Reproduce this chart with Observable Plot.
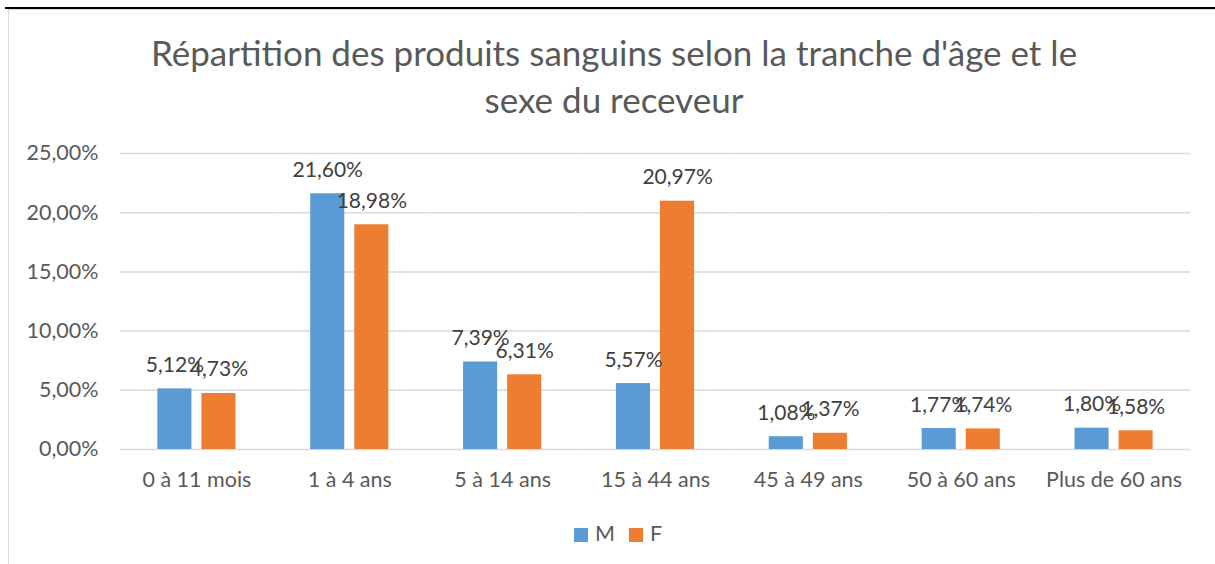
<!DOCTYPE html>
<html>
<head>
<meta charset="utf-8">
<script src="https://cdn.jsdelivr.net/npm/d3@7"></script>
<script src="https://cdn.jsdelivr.net/npm/@observablehq/plot@0.6"></script>
<style>
  html, body { margin: 0; padding: 0; background: #fff; }
  #wrap { position: relative; width: 1215px; height: 564px; overflow: hidden; font-family: Lato, "Open Sans", sans-serif; }
  #blackline { position: absolute; left: 5px; top: 7px; width: 1210px; height: 2px; background: #000; }
  #frame { position: absolute; left: 8px; top: 9px; width: 1220px; height: 600px; border-left: 1px solid #d9d9d9; border-top: 1px solid #d9d9d9; }
  #title { position: absolute; left: 0; width: 1228px; top: 29px; text-align: center; color: #595959; font-size: 35px; line-height: 47px; }
  #legend { position: absolute; left: 0; width: 1236px; top: 520px; display: flex; justify-content: center; gap: 14px; color: #595959; font-size: 21.5px; }
  .sw { display: inline-block; width: 14px; height: 14px; margin-right: 7px; vertical-align: -1px; }
  .item { display: inline-block; }
  #chart { position: absolute; left: 0; top: 0; }
</style>
</head>
<body>
<div id="wrap">
  <div id="frame"></div>
  <div id="blackline"></div>
  <div id="chart"></div>
  <div id="title">Répartition des produits sanguins selon la tranche d'âge et le<br>sexe du receveur</div>
  <div id="legend"></div>
</div>
<script>
const categories = ["0 à 11 mois", "1 à 4 ans", "5 à 14 ans", "15 à 44 ans", "45 à 49 ans", "50 à 60 ans", "Plus de 60 ans"];
const series = ["M", "F"];
const valuesM = [5.12, 21.60, 7.39, 5.57, 1.08, 1.77, 1.80];
const valuesF = [4.73, 18.98, 6.31, 20.97, 1.37, 1.74, 1.58];
const yTicks = [0, 5, 10, 15, 20, 25];
const colors = ["#5B9BD5", "#ED7D31"];

const data = [];
categories.forEach((c, i) => {
  data.push({cat: c, sex: "M", value: valuesM[i]});
  data.push({cat: c, sex: "F", value: valuesF[i]});
});
const pct = v => v.toFixed(2).replace(".", ",") + "%";

const chart = Plot.plot({
  width: 1215,
  height: 564,
  marginLeft: 120,
  marginRight: 25,
  marginTop: 153,
  marginBottom: 115,
  style: {fontFamily: "Lato, 'Open Sans', sans-serif", background: "transparent"},
  fx: {domain: categories, paddingInner: 0, paddingOuter: 0, round: false, label: null},
  x: {domain: series, paddingInner: 0.227, paddingOuter: 0.847, round: false, axis: null},
  y: {domain: [0, 25], axis: null},
  color: {domain: series, range: colors},
  marks: [
    Plot.gridY(yTicks, {stroke: "#d9d9d9", strokeOpacity: 1, strokeWidth: 1.5}),
    Plot.axisY(yTicks, {tickSize: 0, tickPadding: 22, tickFormat: pct, fontSize: 21.5, fill: "#595959", label: null}),
    Plot.axisFx({anchor: "bottom", tickSize: 0, tickPadding: 22, fontSize: 21.5, fill: "#595959", label: null}),
    Plot.barY(data, {fx: "cat", x: "sex", y: "value", fill: "sex"}),
    Plot.text(data, {fx: "cat", x: "sex", y: "value", text: d => pct(d.value), dy: -17, lineAnchor: "bottom", fontSize: 21, fill: "#404040"})
  ]
});
document.getElementById("chart").appendChild(chart);

const legend = document.getElementById("legend");
series.forEach((s, i) => {
  const item = document.createElement("span");
  item.className = "item";
  const sw = document.createElement("span");
  sw.className = "sw";
  sw.style.background = colors[i];
  item.appendChild(sw);
  item.appendChild(document.createTextNode(s));
  legend.appendChild(item);
});
</script>
</body>
</html>
